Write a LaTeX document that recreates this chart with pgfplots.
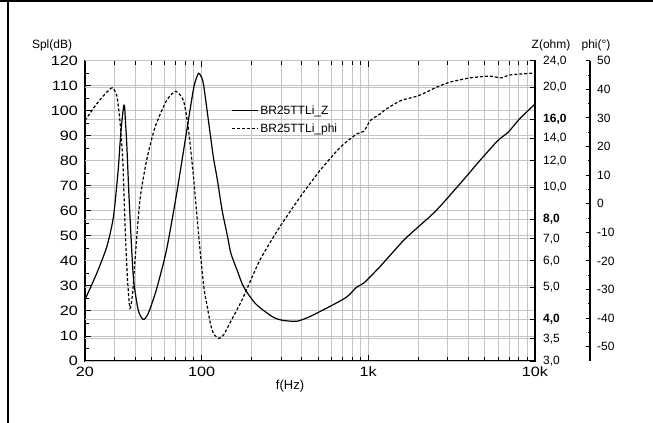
\documentclass[border=0pt]{standalone}
\usepackage{fontspec}
\setmainfont{Liberation Sans}
\newfontfamily\tickfont[FakeStretch=1.2]{Liberation Sans}
\usepackage{pgfplots}
\pgfplotsset{compat=1.18}

\definecolor{gridgray}{HTML}{C4C4C4}
\newcommand{\labfont}{\fontsize{12bp}{14bp}\selectfont}

% impedance curve, Z in ohm
\pgfplotstableread{
f Z
20 4.59
23.5 5.50
27.0 6.61
29.6 8.12
31.6 11.2
32.3 13.1
33.0 15.1
34.0 17.3
34.5 17.6
35.0 15.6
35.6 13.5
36.9 8.92
39.0 5.37
41.7 4.27
44.7 4.00
47.9 4.17
53.5 4.90
61.6 6.46
70.9 9.56
81.0 14.5
89.1 19.5
92 20.9
95.9 22.0
99 21.6
102.7 20.4
112 14.8
118 12.2
124 10.63
133 8.49
143 7.13
150 6.32
164 5.60
175 5.13
187 4.83
210 4.47
235 4.26
270 4.06
303 3.98
372 3.95
446 4.08
585 4.37
741 4.67
855 5.01
941 5.15
1173 5.76
1630 6.92
2040 7.67
2565 8.52
3560 10.25
4670 12.02
5990 13.81
6900 14.62
8100 16.06
10000 17.78
}\zdata

% phase curve, degrees
\pgfplotstableread{
f phi
20 29.1
23.5 34.9
27.0 39.0
29.2 40.5
31.0 37.75
32.4 29.1
33.7 15.1
34.8 -8.1
35.9 -25.6
37.2 -36.6
38.6 -31.4
39.9 -19.7
42.7 1.2
46.8 15.1
52.6 26.7
61.6 36
70 39.3
77.9 36
83.2 26.7
89.1 10.5
95.9 -10.5
103 -28.75
108 -35.75
113 -41.9
118 -45.4
127 -47.1
136 -45.8
149 -41.4
175 -33.6
224 -19.7
294 -8.2
390 2.3
515 11.7
679 19.7
855 24.45
941 25.3
1030 29.1
1173 31.3
1240 32.5
1560 36
2000 37.75
2565 40.7
3090 42.5
4100 44
5350 44.6
6290 44
7060 45
10000 45.7
}\phidata

\pgfplotsset{
  myaxis/.style={
    scale only axis, height=300.3bp,
    axis line style={line width=1.2bp, black},
    tick style={line width=0.9bp, black},
    grid style={gridgray, line width=0.9bp},
    minor grid style={gridgray, line width=0.9bp},
  },
}

\begin{document}
\begin{tikzpicture}
% Spl axis with x grid
\begin{axis}[xmode=log, myaxis, width=450bp,
  xmin=20, xmax=10000, ymin=0, ymax=120,
  xtick={20,100,1000,10000}, xticklabels={20,100,1k,10k},
  minor xtick={30,40,50,60,70,80,90,200,300,400,500,600,700,800,900,2000,3000,4000,5000,6000,7000,8000,9000},
  ytick={0,10,...,120},
  yticklabels={0,10,20,30,40,50,60,70,80,90,100,110,120},
  minor ytick={5,15,...,115},
  ytick pos=left,
  major tick length=6bp, minor tick length=4bp,
  xmajorgrids, xminorgrids, ymajorgrids,
  tick label style={font=\tickfont\fontsize{13.5bp}{15bp}\selectfont},
  yticklabel style={anchor=east, inner sep=0pt, xshift=-7bp},
  xticklabel style={anchor=north, inner sep=0pt, yshift=-6bp},
  xlabel={f(Hz)}, ylabel={Spl(dB)},
  every axis x label/.style={at={(axis description cs:0.4556,-0.083)}, anchor=center, font=\fontsize{13bp}{15bp}\selectfont},
  every axis y label/.style={at={(axis description cs:-0.0733,1.0523)}, anchor=center, font=\labfont},
]
\addplot[draw=none] coordinates {(20,0) (10000,120)};
\end{axis}
% impedance axis
\begin{axis}[xmode=log, ymode=log, myaxis, width=450bp,
  xmin=20, xmax=10000, ymin=3, ymax=24,
  hide x axis, axis y line*=right,
  ytick={3,3.5,4,5,6,7,8,10,12,14,16,20,24},
  yticklabels={{3,0},{3,5},{\bfseries 4,0},{5,0},{6,0},{7,0},{\bfseries 8,0},{10,0},{12,0},{14,0},{\bfseries 16,0},{20,0},{24,0}},
  minor ytick={},
  major tick length=5bp,
  ymajorgrids,
  tick label style={font=\labfont},
  yticklabel style={anchor=west, inner sep=0pt, xshift=8bp},
  ylabel={Z(ohm)},
  every axis y label/.style={at={(axis description cs:1.0356,1.0523)}, anchor=center, font=\labfont},
]
\addplot[black, line width=1.2bp, smooth, tension=0.4] table[x=f, y=Z] {\zdata};
\end{axis}
% phase axis, offset to the right
\begin{axis}[xmode=log, myaxis, width=505bp,
  xmin=20, xmax=21378, ymin=-55, ymax=50,
  hide x axis, axis y line*=right,
  ytick={-50,-40,...,50},
  yticklabels={-50,-40,-30,-20,-10,0,10,20,30,40,50},
  minor ytick={-45,-35,...,45},
  major tick length=4bp, minor tick length=2.5bp,
  tick label style={font=\labfont},
  yticklabel style={anchor=west, inner sep=0pt, xshift=7bp},
  ylabel={phi(°)},
  every axis y label/.style={at={(axis description cs:1.0119,1.0523)}, anchor=center, font=\labfont},
  legend style={at={(axis description cs:0.2832,0.865)}, anchor=north west,
    draw=none, fill=none, font=\labfont,
    row sep=4bp, cells={anchor=west}},
  legend image code/.code={\draw[#1] (0bp,0bp) -- (26bp,0bp);},
]
\addlegendimage{black, line width=1.2bp}
\addlegendentry{BR25TTLi\_Z}
\addplot[black, line width=1.2bp, dash pattern=on 3bp off 2bp, smooth, tension=0.4] table[x=f, y=phi] {\phidata};
\addlegendentry{BR25TTLi\_phi}
\end{axis}
% page frame
\draw[line width=2.5bp] (-77bp,361bp) -- (-77bp,-62bp);
\draw[line width=2.5bp] (-85bp,359.75bp) -- (568bp,359.75bp);
\pgfresetboundingbox
\useasboundingbox (-85bp,-62bp) rectangle (568bp,361bp);
\end{tikzpicture}
\end{document}
